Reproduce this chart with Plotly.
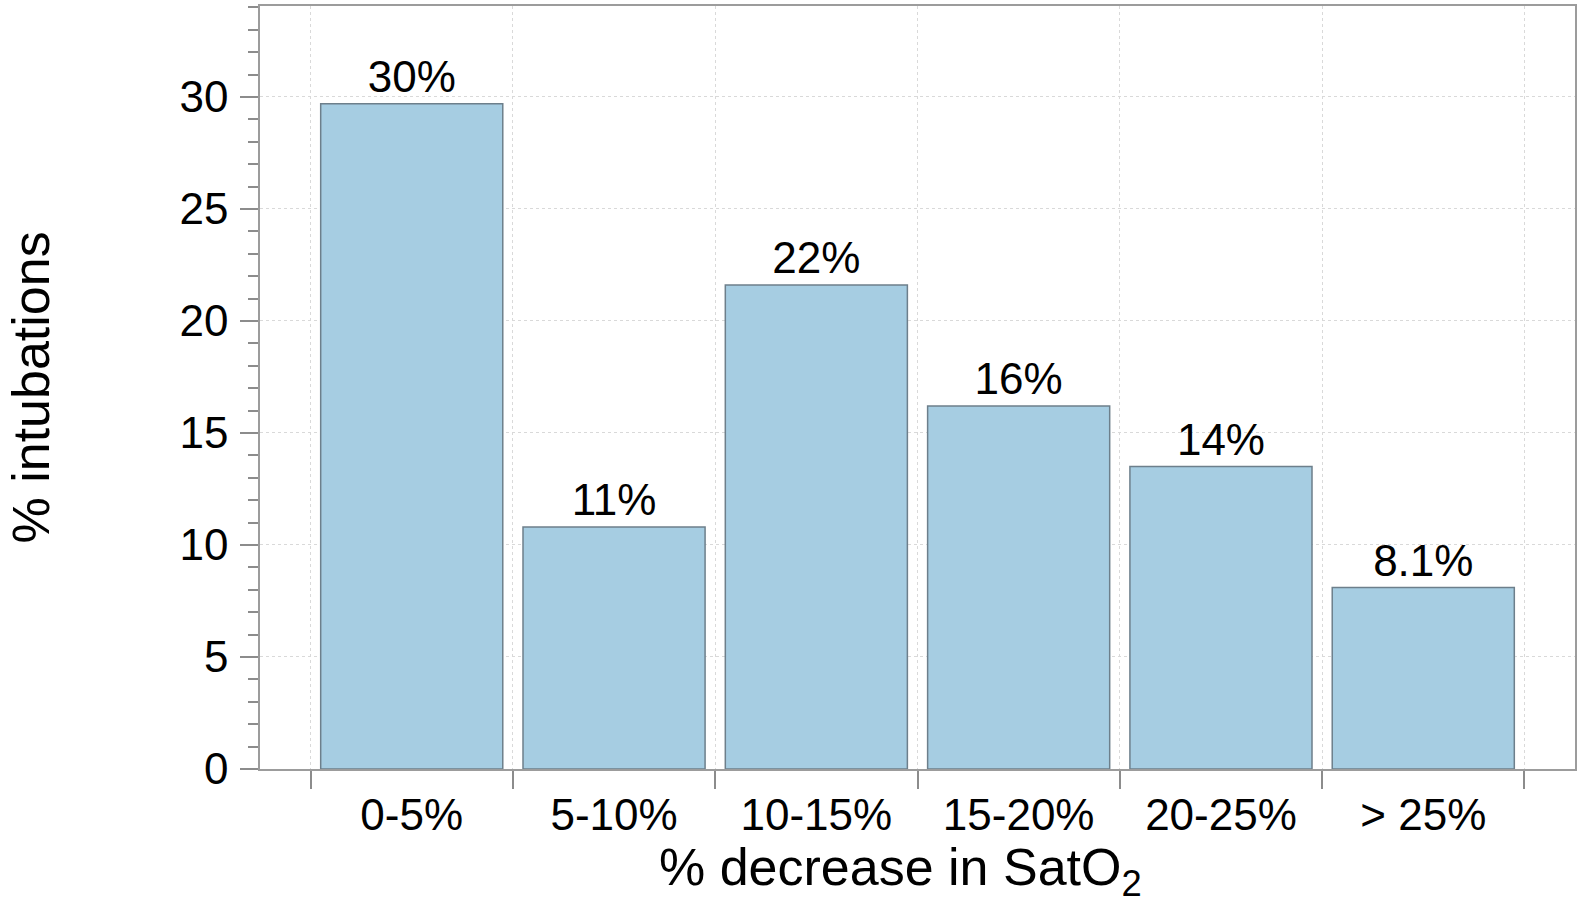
import plotly.graph_objects as go

categories = ["0-5%", "5-10%", "10-15%", "15-20%", "20-25%", "> 25%"]
values = [29.7, 10.8, 21.6, 16.2, 13.5, 8.1]
labels = ["30%", "11%", "22%", "16%", "14%", "8.1%"]
y_ticks = [0, 5, 10, 15, 20, 25, 30]

FONT = "Liberation Sans, Arial, Helvetica, sans-serif"
AXIS_COLOR = "#9c9c9c"
GRID_COLOR = "#d9d9d9"

fig = go.Figure(go.Bar(
    x=categories,
    y=values,
    width=0.9,
    text=labels,
    textposition="outside",
    textfont=dict(size=44, color="black", family=FONT),
    cliponaxis=False,
    marker=dict(color="#a6cde2", line=dict(color="#6d7f8b", width=1.5)),
))

fig.update_layout(
    width=1583, height=905,
    margin=dict(l=260, r=8, t=6, b=136, autoexpand=False),
    plot_bgcolor="white", paper_bgcolor="white",
    font=dict(family=FONT, color="black", size=44),
    showlegend=False,
    bargap=0.1,
)

fig.update_xaxes(
    type="category",
    range=[-0.75, 5.75],
    tickson="boundaries",
    automargin=False,
    ticks="outside", ticklen=18, tickwidth=1.5, tickcolor="#8c8c8c",
    showline=True, linecolor=AXIS_COLOR, linewidth=1.5, mirror=True,
    showgrid=True, gridcolor=GRID_COLOR, griddash="dot", gridwidth=1,
    tickfont=dict(size=44, family=FONT, color="black"),
    ticklabelstandoff=6,
)

fig.update_yaxes(
    range=[0, 34.06],
    tickvals=y_ticks,
    automargin=False,
    ticks="outside", ticklen=18, tickwidth=1.5, tickcolor="#8c8c8c",
    minor=dict(dtick=1, ticks="outside", ticklen=10, tickwidth=1.5, tickcolor="#8c8c8c", showgrid=False),
    showline=True, linecolor=AXIS_COLOR, linewidth=1.5, mirror=True,
    showgrid=True, gridcolor=GRID_COLOR, griddash="dot", gridwidth=1,
    zeroline=False,
    tickfont=dict(size=44, family=FONT, color="black"),
    ticklabelstandoff=3,
)

fig.add_annotation(
    text="% decrease in SatO<sub>2</sub>",
    xref="paper", yref="paper",
    x=(900 - 260) / 1315, y=-(871 - 769) / 763,
    xanchor="center", yanchor="middle",
    showarrow=False,
    font=dict(size=52, family=FONT, color="black"),
)

fig.add_annotation(
    text="% intubations",
    xref="paper", yref="paper",
    x=-(260 - 30) / 1315, y=0.5,
    xanchor="center", yanchor="middle",
    textangle=-90,
    showarrow=False,
    font=dict(size=52, family=FONT, color="black"),
)

fig.write_html(
    "out.html",
    config={"displayModeBar": False},
    post_script="document.body.style.margin='0';document.body.style.padding='0';",
)
